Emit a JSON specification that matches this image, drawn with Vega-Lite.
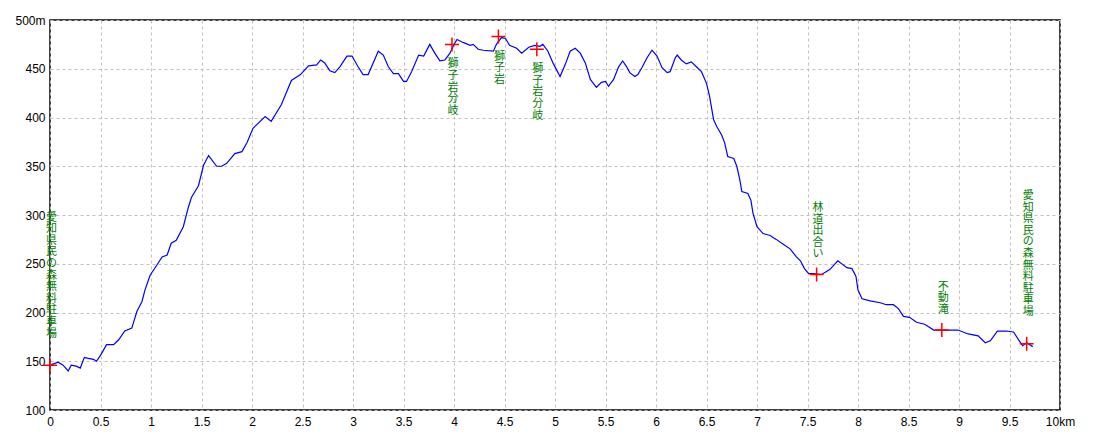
{
  "$schema": "https://vega.github.io/schema/vega-lite/v6.json",
  "width": 1010,
  "height": 390,
  "autosize": {"type": "none"},
  "padding": {"left": 50, "top": 20, "right": 40, "bottom": 30},
  "background": "white",
  "config": {
    "view": {"stroke": "black", "strokeWidth": 1.5},
    "axis": {
      "labelFont": "Liberation Sans", "labelFontSize": 12, "labelColor": "black",
      "domain": false, "ticks": false,
      "grid": true, "gridColor": "#c0c0c0", "gridDash": [3, 3], "gridWidth": 1,
      "title": null
    }
  },
  "datasets": {
    "profile": [
      {"km": 0.0, "elev": 146}, {"km": 0.08, "elev": 149}, {"km": 0.13, "elev": 146},
      {"km": 0.18, "elev": 140}, {"km": 0.21, "elev": 146}, {"km": 0.26, "elev": 145},
      {"km": 0.30, "elev": 143}, {"km": 0.34, "elev": 154}, {"km": 0.38, "elev": 153},
      {"km": 0.43, "elev": 152}, {"km": 0.46, "elev": 150}, {"km": 0.50, "elev": 156},
      {"km": 0.56, "elev": 167}, {"km": 0.63, "elev": 167}, {"km": 0.68, "elev": 172},
      {"km": 0.74, "elev": 181}, {"km": 0.81, "elev": 184}, {"km": 0.86, "elev": 201},
      {"km": 0.91, "elev": 211}, {"km": 0.94, "elev": 223}, {"km": 0.99, "elev": 238},
      {"km": 1.06, "elev": 249}, {"km": 1.11, "elev": 257}, {"km": 1.16, "elev": 259},
      {"km": 1.20, "elev": 271}, {"km": 1.25, "elev": 274}, {"km": 1.32, "elev": 288},
      {"km": 1.37, "elev": 308}, {"km": 1.40, "elev": 318}, {"km": 1.47, "elev": 330},
      {"km": 1.52, "elev": 351}, {"km": 1.57, "elev": 361}, {"km": 1.65, "elev": 350},
      {"km": 1.70, "elev": 350}, {"km": 1.75, "elev": 353}, {"km": 1.83, "elev": 363},
      {"km": 1.90, "elev": 365}, {"km": 1.95, "elev": 374}, {"km": 2.01, "elev": 389},
      {"km": 2.13, "elev": 401}, {"km": 2.19, "elev": 396}, {"km": 2.29, "elev": 413},
      {"km": 2.39, "elev": 438}, {"km": 2.48, "elev": 444}, {"km": 2.56, "elev": 453},
      {"km": 2.64, "elev": 454}, {"km": 2.68, "elev": 459}, {"km": 2.72, "elev": 456},
      {"km": 2.77, "elev": 448}, {"km": 2.82, "elev": 446}, {"km": 2.87, "elev": 452},
      {"km": 2.94, "elev": 463}, {"km": 2.99, "elev": 463}, {"km": 3.05, "elev": 452},
      {"km": 3.10, "elev": 444}, {"km": 3.15, "elev": 444}, {"km": 3.20, "elev": 456},
      {"km": 3.25, "elev": 468}, {"km": 3.30, "elev": 464}, {"km": 3.35, "elev": 452},
      {"km": 3.40, "elev": 445}, {"km": 3.45, "elev": 445}, {"km": 3.50, "elev": 437},
      {"km": 3.53, "elev": 437}, {"km": 3.58, "elev": 447}, {"km": 3.65, "elev": 464},
      {"km": 3.70, "elev": 463}, {"km": 3.76, "elev": 475}, {"km": 3.81, "elev": 466},
      {"km": 3.86, "elev": 458}, {"km": 3.91, "elev": 459}, {"km": 3.96, "elev": 466},
      {"km": 4.00, "elev": 475}, {"km": 4.03, "elev": 480}, {"km": 4.09, "elev": 477},
      {"km": 4.16, "elev": 474}, {"km": 4.19, "elev": 475}, {"km": 4.24, "elev": 470},
      {"km": 4.29, "elev": 469}, {"km": 4.39, "elev": 468}, {"km": 4.42, "elev": 475},
      {"km": 4.47, "elev": 482}, {"km": 4.51, "elev": 481}, {"km": 4.55, "elev": 474},
      {"km": 4.62, "elev": 471}, {"km": 4.67, "elev": 466}, {"km": 4.74, "elev": 472},
      {"km": 4.80, "elev": 474}, {"km": 4.85, "elev": 473}, {"km": 4.88, "elev": 475},
      {"km": 4.93, "elev": 468}, {"km": 4.98, "elev": 456}, {"km": 5.05, "elev": 442},
      {"km": 5.10, "elev": 454}, {"km": 5.15, "elev": 468}, {"km": 5.20, "elev": 471},
      {"km": 5.25, "elev": 466}, {"km": 5.30, "elev": 456}, {"km": 5.35, "elev": 439},
      {"km": 5.41, "elev": 431}, {"km": 5.46, "elev": 436}, {"km": 5.50, "elev": 437},
      {"km": 5.53, "elev": 432}, {"km": 5.58, "elev": 439}, {"km": 5.63, "elev": 452},
      {"km": 5.67, "elev": 458}, {"km": 5.71, "elev": 452}, {"km": 5.74, "elev": 446},
      {"km": 5.79, "elev": 442}, {"km": 5.82, "elev": 444}, {"km": 5.86, "elev": 451},
      {"km": 5.91, "elev": 461}, {"km": 5.96, "elev": 469}, {"km": 6.01, "elev": 463},
      {"km": 6.06, "elev": 451}, {"km": 6.11, "elev": 446}, {"km": 6.14, "elev": 447},
      {"km": 6.19, "elev": 461}, {"km": 6.21, "elev": 464}, {"km": 6.25, "elev": 459},
      {"km": 6.30, "elev": 455}, {"km": 6.35, "elev": 457}, {"km": 6.40, "elev": 452},
      {"km": 6.45, "elev": 447}, {"km": 6.50, "elev": 435}, {"km": 6.53, "elev": 422},
      {"km": 6.57, "elev": 398}, {"km": 6.60, "elev": 391}, {"km": 6.65, "elev": 382},
      {"km": 6.68, "elev": 374}, {"km": 6.71, "elev": 360}, {"km": 6.77, "elev": 358},
      {"km": 6.80, "elev": 350}, {"km": 6.83, "elev": 336}, {"km": 6.85, "elev": 324},
      {"km": 6.91, "elev": 322}, {"km": 6.94, "elev": 315}, {"km": 6.96, "elev": 302},
      {"km": 7.00, "elev": 288}, {"km": 7.06, "elev": 281}, {"km": 7.13, "elev": 279},
      {"km": 7.19, "elev": 275}, {"km": 7.26, "elev": 270}, {"km": 7.33, "elev": 265},
      {"km": 7.39, "elev": 257}, {"km": 7.43, "elev": 253}, {"km": 7.47, "elev": 245},
      {"km": 7.51, "elev": 240}, {"km": 7.56, "elev": 240}, {"km": 7.64, "elev": 239},
      {"km": 7.72, "elev": 244}, {"km": 7.80, "elev": 253}, {"km": 7.89, "elev": 246},
      {"km": 7.94, "elev": 245}, {"km": 7.98, "elev": 237}, {"km": 8.00, "elev": 223},
      {"km": 8.04, "elev": 214}, {"km": 8.12, "elev": 212}, {"km": 8.22, "elev": 210},
      {"km": 8.28, "elev": 208}, {"km": 8.35, "elev": 208}, {"km": 8.40, "elev": 204},
      {"km": 8.45, "elev": 196}, {"km": 8.51, "elev": 195}, {"km": 8.58, "elev": 190},
      {"km": 8.66, "elev": 188}, {"km": 8.75, "elev": 182}, {"km": 8.99, "elev": 182},
      {"km": 9.09, "elev": 178}, {"km": 9.19, "elev": 176}, {"km": 9.26, "elev": 169},
      {"km": 9.31, "elev": 171}, {"km": 9.38, "elev": 181}, {"km": 9.47, "elev": 181},
      {"km": 9.54, "elev": 180}, {"km": 9.59, "elev": 172}, {"km": 9.63, "elev": 166},
      {"km": 9.67, "elev": 169}, {"km": 9.73, "elev": 165}
    ],
    "points": [
      {"km": 0.0, "elev": 146, "name": "愛知県民の森 無料駐車場"},
      {"km": 3.98, "elev": 475, "name": "獅子岩分岐"},
      {"km": 4.44, "elev": 483, "name": "獅子岩"},
      {"km": 4.82, "elev": 470, "name": "獅子岩分岐"},
      {"km": 7.59, "elev": 239, "name": "林道出合い"},
      {"km": 8.83, "elev": 182, "name": "不動滝"},
      {"km": 9.67, "elev": 168, "name": "愛知県民の森 無料駐車場"}
    ]
  },
  "encoding": {
    "x": {
      "field": "km", "type": "quantitative",
      "scale": {"domain": [0, 10], "nice": false, "zero": false},
      "axis": {
        "values": [0, 0.5, 1, 1.5, 2, 2.5, 3, 3.5, 4, 4.5, 5, 5.5, 6, 6.5, 7, 7.5, 8, 8.5, 9, 9.5, 10],
        "labelExpr": "datum.value == 10 ? '10km' : toString(datum.value)",
        "labelPadding": 6, "labelFlush": false, "labelOverlap": false
      }
    },
    "y": {
      "field": "elev", "type": "quantitative",
      "scale": {"domain": [100, 500], "nice": false, "zero": false},
      "axis": {
        "values": [100, 150, 200, 250, 300, 350, 400, 450, 500],
        "labelExpr": "datum.value == 500 ? '500m' : datum.label",
        "labelPadding": 5, "labelFlush": false, "labelOverlap": false
      }
    }
  },
  "layer": [
    {
      "data": {"name": "profile"},
      "mark": {"type": "line", "color": "#0000ff", "strokeWidth": 1.2, "interpolate": "linear"}
    },
    {
      "data": {"name": "points"},
      "mark": {
        "type": "point", "shape": "M-1,0H1M0,-1V1", "size": 196,
        "stroke": "#ff0000", "strokeWidth": 1.5, "filled": false, "opacity": 1
      }
    },
    {
      "data": {"name": "points"},
      "transform": [
        {"filter": "datum.elev < 450"},
        {"calculate": "split(datum.name, '')", "as": "chars"}
      ],
      "mark": {
        "type": "text", "baseline": "bottom", "align": "center", "dx": 1.5,
        "dy": {"expr": "-15 - (length(datum.chars) - 1) * 11.6"},
        "font": "Noto Sans CJK JP", "fontSize": 11, "lineHeight": 11.6, "color": "#008000"
      },
      "encoding": {"text": {"field": "chars", "type": "nominal"}}
    },
    {
      "data": {"name": "points"},
      "transform": [
        {"filter": "datum.elev >= 450"},
        {"calculate": "split(datum.name, '')", "as": "chars"}
      ],
      "mark": {
        "type": "text", "baseline": "top", "align": "center", "dx": 1, "dy": 14,
        "font": "Noto Sans CJK JP", "fontSize": 11, "lineHeight": 11.6, "color": "#008000"
      },
      "encoding": {"text": {"field": "chars", "type": "nominal"}}
    }
  ]
}
